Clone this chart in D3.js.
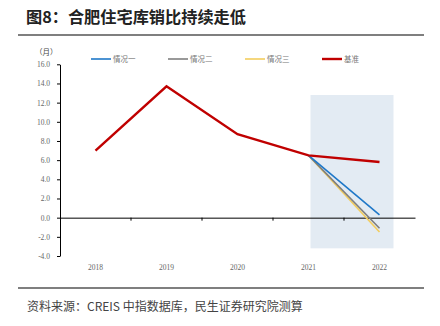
<!DOCTYPE html>
<html><head><meta charset="utf-8">
<script src="https://cdn.jsdelivr.net/npm/d3@7/dist/d3.min.js"></script>
<style>body{margin:0;background:#fff;}svg{display:block;}</style>
</head><body>
<script>
const years = ["2018","2019","2020","2021","2022"];
const baseline = [7.0, 13.7, 8.7, 6.5, 5.8];
const case1 = [null, null, null, 6.5, 0.3];
const case2 = [null, null, null, 6.5, -1.1];
const case3 = [null, null, null, 6.5, -1.5];
const yTicks = [16,14,12,10,8,6,4,2,0,-2,-4];
const seriesNames = ["情况一","情况二","情况三","基准"];
const shadeRange = [12.8, -3.2];

const W=440,H=326;
const svg=d3.select("body").append("svg").attr("width",W).attr("height",H);
const font="'Noto Sans CJK SC','Noto Sans',sans-serif";

svg.append("text").attr("x",26).attr("y",23).text("图8：合肥住宅库销比持续走低")
  .attr("font-family",font).attr("font-weight","bold").attr("font-size",16.2).attr("fill","#222");
svg.append("line").attr("x1",18).attr("x2",424).attr("y1",35).attr("y2",35).attr("stroke","#555").attr("stroke-width",1.5);
svg.append("line").attr("x1",18).attr("x2",424).attr("y1",288).attr("y2",288).attr("stroke","#555").attr("stroke-width",1.5);
svg.append("text").attr("x",27).attr("y",311).text("资料来源：CREIS 中指数据库，民生证券研究院测算")
  .attr("font-family",font).attr("font-size",12).attr("fill","#444");

const x=d3.scaleBand().domain(years).range([60,415]);
const y=d3.scaleLinear().domain([-4,16]).range([256,64.3]);
const cx=d=>x(d)+x.bandwidth()/2;

// shaded region
svg.append("rect").attr("x",cx("2021")+2).attr("width",(cx("2022")-cx("2021"))+12)
  .attr("y",y(shadeRange[0])).attr("height",y(shadeRange[1])-y(shadeRange[0])).attr("fill","#e3ebf3");

// y axis
const ya=svg.append("g").attr("transform","translate(60,0)")
  .call(d3.axisLeft(y).tickValues(yTicks).tickFormat(d3.format(".1f")).tickSize(3).tickSizeOuter(0));
ya.select(".domain").attr("stroke","#000");
ya.selectAll(".tick line").attr("stroke","#000");
ya.selectAll("text").attr("font-family","'Liberation Serif',serif").attr("font-size",7.5).attr("fill","#666").attr("x",-10);
ya.selectAll(".tick text").each(function(d){ d3.select(this).text(d<0?"-"+Math.abs(d).toFixed(1):d.toFixed(1)); });

// x axis at zero
const xa=svg.append("g").attr("transform",`translate(0,${y(0)})`)
  .call(d3.axisBottom(x).tickSize(0).tickSizeOuter(0));
xa.select(".domain").attr("stroke","#000");
xa.selectAll("text").remove();
// boundary ticks
xa.selectAll(".bt").data(years.slice(1)).enter().append("line")
  .attr("x1",d=>x(d)).attr("x2",d=>x(d)).attr("y1",0).attr("y2",3).attr("stroke","#000");
svg.selectAll(".xl").data(years).enter().append("text")
  .attr("x",d=>cx(d)).attr("y",270).attr("text-anchor","middle").text(d=>d)
  .attr("font-family","'Liberation Serif',serif").attr("font-size",7.5).attr("fill","#666");

svg.append("text").attr("x",35).attr("y",55).text("（月）").attr("font-family",font).attr("font-size",7.5).attr("fill","#444");

const colors=["#1f78c8","#7f7f7f","#f3cd5e","#c00000"];
const widths=[1.6,1.6,1.6,2.4];
const data=[case1,case2,case3,baseline];
const line=d3.line().defined(d=>d!==null).x((d,i)=>cx(years[i])).y(d=>y(d));
[2,1,0,3].forEach(k=>{
  svg.append("path").datum(data[k]).attr("d",line).attr("fill","none")
    .attr("stroke",colors[k]).attr("stroke-width",widths[k]);
});

// legend
const lx=[91,168,245,322];
seriesNames.forEach((n,k)=>{
  svg.append("line").attr("x1",lx[k]).attr("x2",lx[k]+20).attr("y1",59).attr("y2",59)
    .attr("stroke",colors[k]).attr("stroke-width",widths[k]);
  svg.append("text").attr("x",lx[k]+22).attr("y",62).text(n).attr("font-family",font)
    .attr("font-size",7.5).attr("fill","#777");
});
</script>
</body></html>
